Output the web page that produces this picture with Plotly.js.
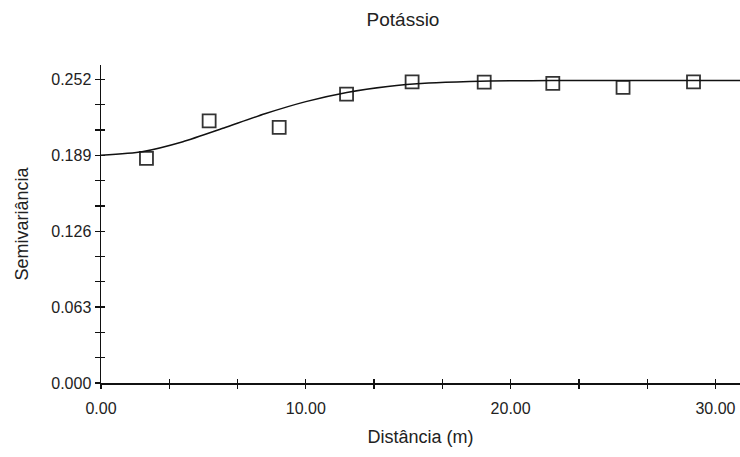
<!DOCTYPE html>
<html>
<head>
<meta charset="utf-8">
<script src="https://cdn.plot.ly/plotly-3.0.1.min.js"></script>
<style>
  html, body { margin: 0; padding: 0; background: #ffffff; }
  #chart { width: 740px; height: 457px; }
</style>
</head>
<body>
<div id="chart"></div>
<script>
// Experimental semivariogram (lag distance in m, semivariance)
const lagDistance = [2.22, 5.28, 8.70, 11.99, 15.19, 18.71, 22.06, 25.49, 28.93];
const semivariance = [0.1865, 0.2176, 0.2123, 0.2398, 0.2500, 0.2498, 0.2487, 0.2454, 0.2500];

// Fitted model curve
const modelDistance = [0, 2, 4, 6, 8, 10, 12, 14, 16, 18, 20, 22, 25, 28, 31.2];
const modelSemivariance = [0.189, 0.1920, 0.2003, 0.2117, 0.2235, 0.2336, 0.2412, 0.2462, 0.2490, 0.2503, 0.2509, 0.2511, 0.2512, 0.2512, 0.2512];

// Tick labels
const yTickValues = [0, 0.063, 0.126, 0.189, 0.252];
const yTickLabels = ['0.000', '0.063', '0.126', '0.189', '0.252'];
const xTickValues = [0, 10, 20, 30];
const xTickLabels = ['0.00', '10.00', '20.00', '30.00'];

const chartTitle = 'Potássio';
const xTitle = 'Distância (m)';
const yTitle = 'Semivariância';

const FONT = '"Liberation Sans", Arial, sans-serif';
const INK = '#222222';
const xRange = [0, 31.2];
const yRange = [0, 0.264];

const traces = [
  {
    type: 'scatter',
    mode: 'lines',
    x: modelDistance,
    y: modelSemivariance,
    xaxis: 'x2',
    yaxis: 'y2',
    line: { color: '#111111', width: 1.5, shape: 'spline', smoothing: 0.6 },
    hoverinfo: 'skip',
    cliponaxis: true
  },
  {
    type: 'scatter',
    mode: 'markers',
    x: lagDistance,
    y: semivariance,
    marker: { symbol: 'square-open', size: 13, color: '#333333', line: { width: 1.8, color: '#333333' } },
    cliponaxis: false
  }
];

const layout = {
  width: 740,
  height: 457,
  margin: { l: 101, r: 0, t: 65, b: 74 },
  paper_bgcolor: '#ffffff',
  plot_bgcolor: '#ffffff',
  showlegend: false,
  font: { family: FONT, color: INK, size: 16 },
  title: {
    text: chartTitle,
    font: { family: FONT, size: 19, color: INK },
    xref: 'container', yref: 'container',
    x: 403 / 740, xanchor: 'center',
    y: 1 - 19 / 457, yanchor: 'middle'
  },
  xaxis: {
    range: xRange,
    showgrid: false,
    zeroline: false,
    showline: true,
    linecolor: '#111111',
    linewidth: 1.5,
    ticks: 'outside',
    ticklen: 4,
    tickwidth: 1.3,
    tickcolor: '#111111',
    tickvals: xTickValues,
    ticktext: xTickLabels,
    tickfont: { family: FONT, size: 16, color: INK },
    ticklabelstandoff: 6,
    minor: { dtick: 10 / 3, tick0: 0, ticks: 'outside', ticklen: 4, tickwidth: 1.3, tickcolor: '#111111', showgrid: false },
    title: { text: xTitle, font: { family: FONT, size: 18, color: INK }, standoff: 14 },
    automargin: false,
    fixedrange: true
  },
  yaxis: {
    range: yRange,
    showgrid: false,
    zeroline: false,
    showline: true,
    linecolor: '#111111',
    linewidth: 1.5,
    ticks: 'outside',
    ticklen: 5,
    tickwidth: 1.3,
    tickcolor: '#111111',
    tickvals: yTickValues,
    ticktext: yTickLabels,
    tickfont: { family: FONT, size: 16, color: INK },
    minor: { dtick: 0.021, tick0: 0, ticks: 'outside', ticklen: 5, tickwidth: 1.3, tickcolor: '#111111', showgrid: false },
    title: { text: yTitle, font: { family: FONT, size: 18, color: INK }, standoff: 18 },
    automargin: false,
    fixedrange: true
  },
  xaxis2: {
    overlaying: 'x',
    side: 'bottom',
    anchor: 'y2',
    range: xRange,
    showgrid: false, zeroline: false, showline: false, showticklabels: false,
    ticks: 'inside', ticklen: 4, tickwidth: 1.3, tickcolor: '#111111',
    tickvals: xTickValues,
    minor: { dtick: 10 / 3, tick0: 0, ticks: 'inside', ticklen: 4, tickwidth: 1.3, tickcolor: '#111111', showgrid: false },
    fixedrange: true
  },
  yaxis2: {
    overlaying: 'y',
    side: 'left',
    anchor: 'x2',
    range: yRange,
    showgrid: false, zeroline: false, showline: false, showticklabels: false,
    ticks: 'inside', ticklen: 4, tickwidth: 1.3, tickcolor: '#111111',
    tickvals: yTickValues,
    minor: { dtick: 0.021, tick0: 0, ticks: 'inside', ticklen: 4, tickwidth: 1.3, tickcolor: '#111111', showgrid: false },
    fixedrange: true
  }
};

Plotly.newPlot('chart', traces, layout, { displayModeBar: false, staticPlot: true });
</script>
</body>
</html>
